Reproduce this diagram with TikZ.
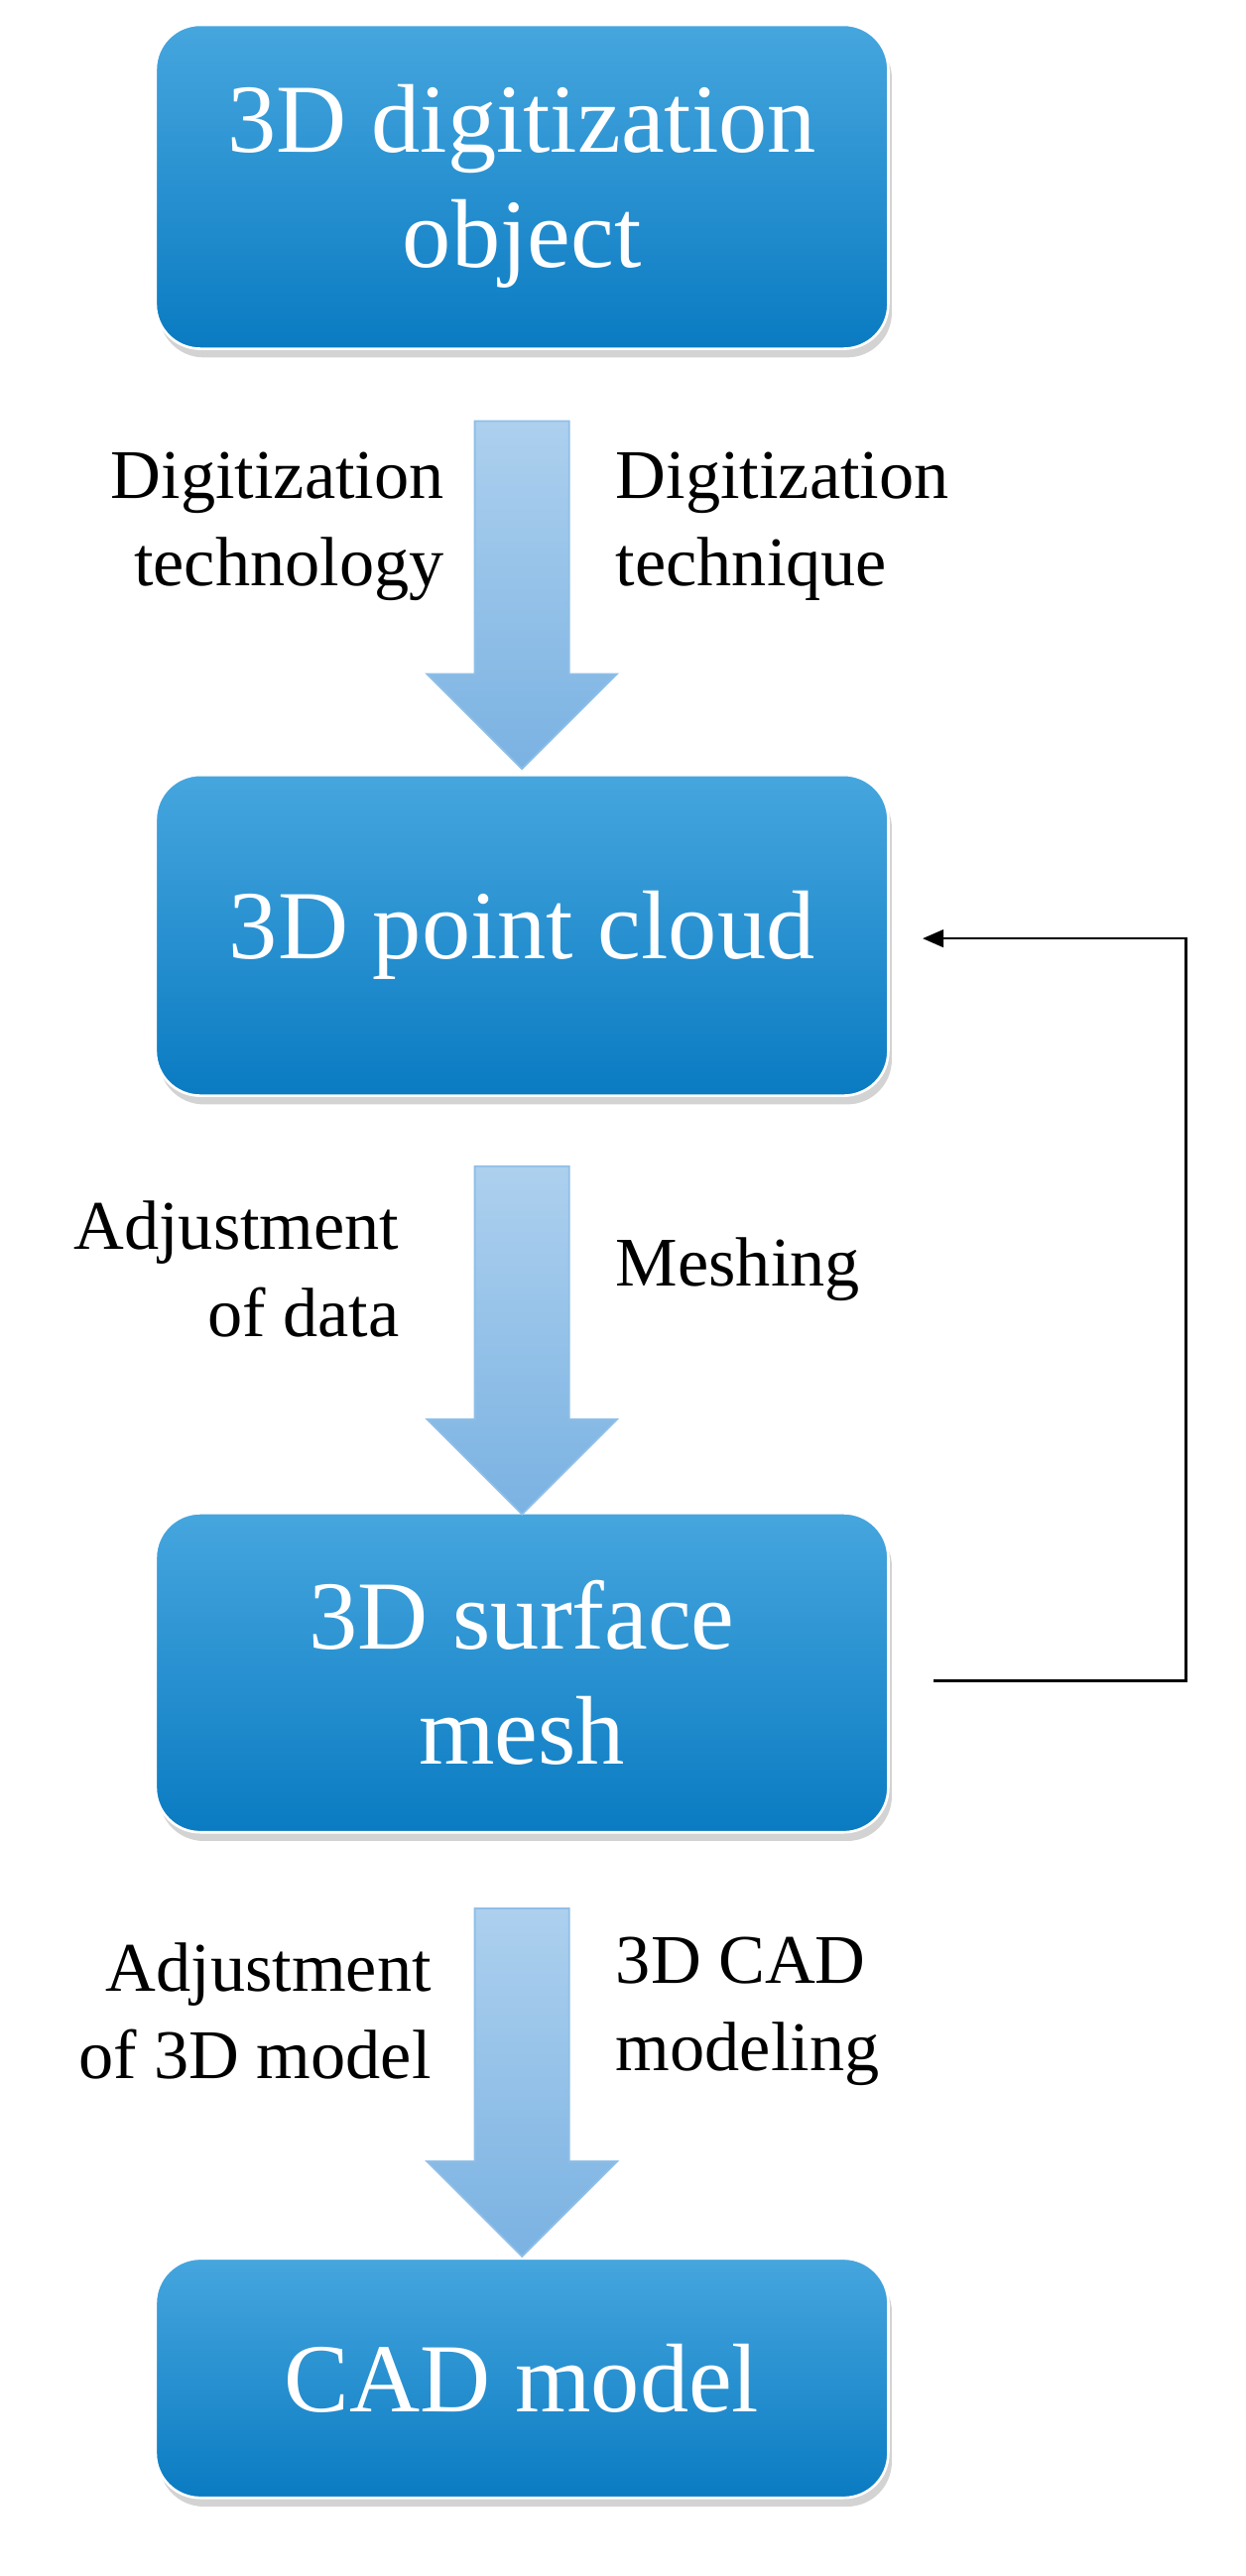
\documentclass[tikz,border=0pt]{standalone}
\usepackage{fontspec}
\setmainfont{Liberation Serif}
\usetikzlibrary{arrows.meta,shapes.arrows,shadows}
\begin{document}
\begin{tikzpicture}[x=0.03218cm,y=-0.03218cm,
 box/.style={rounded corners=0.9cm, draw=white, line width=1.5pt, top color=boxtop, bottom color=boxbot, text=white, align=center, font=\fontsize{56}{66}\selectfont, minimum width=459*0.03218cm, inner sep=0pt, drop shadow={opacity=0.35, shadow xshift=2pt, shadow yshift=-5pt}},
 lab/.style={font=\fontsize{40}{50}\selectfont},
 arr/.style={single arrow, shape border rotate=270, draw=arrbd, line width=1pt, top color=arrtop, bottom color=arrbot, inner sep=29*0.03218cm, single arrow head extend=30*0.03218cm, single arrow head indent=0pt, minimum height=218*0.03218cm}]
\definecolor{boxtop}{HTML}{46A6DE}
\definecolor{boxbot}{HTML}{0A7BC2}
\definecolor{arrtop}{HTML}{ADD0EE}
\definecolor{arrbot}{HTML}{7AB2E2}
\definecolor{arrbd}{HTML}{8FBFE8}
\useasboundingbox (0,0) rectangle (780,1614);
\node[box, minimum height=203*0.03218cm] (b1) at (327,117) {3D digitization\\object};
\node[box, minimum height=201*0.03218cm] (b2) at (327,586) {3D point cloud};
\node[box, minimum height=200*0.03218cm] (b3) at (327,1048) {3D surface\\mesh};
\node[box, minimum height=150*0.03218cm] (b4) at (327,1490) {CAD model};
\node[arr] (a1) at (327,358) {};
\node[arr] (a2) at (327,825) {};
\node[arr] (a3) at (327,1290) {};
\node[lab, anchor=east, align=right] (l1) at (282,330) {Digitization\\technology};
\node[lab, anchor=west, align=left] (l2) at (382,330) {Digitization\\technique};
\node[lab, anchor=east, align=right] (l3) at (254,795) {Adjustment\\of data};
\node[lab, anchor=west, align=left] (l4) at (382,795) {Meshing};
\node[lab, anchor=east, align=right] (l5) at (274,1260) {Adjustment\\of 3D model};
\node[lab, anchor=west, align=left] (l6) at (382,1260) {3D CAD\\modeling};
\coordinate (c1) at (585,1053);
\coordinate (c2) at (743,1053);
\coordinate (c3) at (743,588);
\coordinate (c4) at (578,588);
\draw[line width=1.5pt, -{Triangle[length=12pt,width=10pt]}] (c1) -- (c2) -- (c3) -- (c4);
\end{tikzpicture}
\end{document}
